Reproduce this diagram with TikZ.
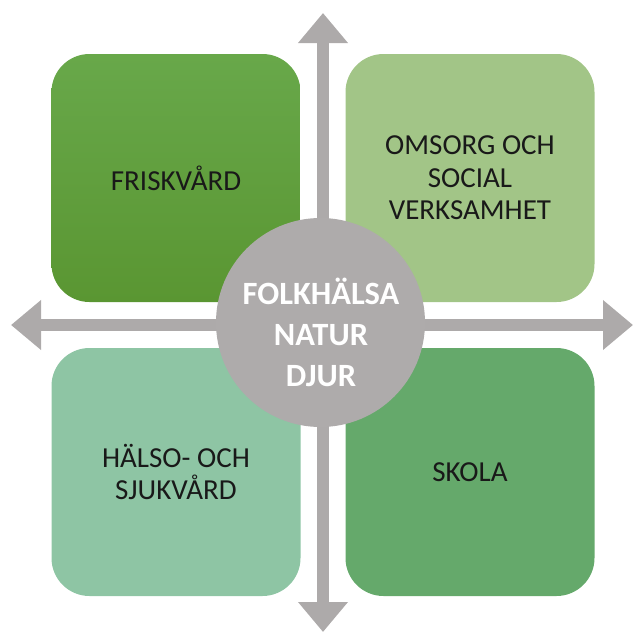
\documentclass[tikz,border=0pt]{standalone}
\usepackage{fontspec}
\setmainfont{Carlito}
\usetikzlibrary{arrows.meta}
\definecolor{friskgreentop}{HTML}{68A84A}
\definecolor{friskgreenbot}{HTML}{5A9632}
\definecolor{omsorggreen}{HTML}{A2C587}
\definecolor{halsogreen}{HTML}{8EC5A4}
\definecolor{skolagreen}{HTML}{65A96B}
\definecolor{coregray}{HTML}{AEABAB}
\definecolor{arrowgray}{HTML}{ADAAAA}
\tikzset{
  area/.style={minimum width=249pt,minimum height=248pt,inner sep=0pt,
    rounded corners=38pt,align=center,text=black!90,
    font=\fontsize{29}{32.5}\selectfont},
  core/.style={circle,fill=coregray,minimum size=209pt,inner sep=0pt},
  axis/.style={arrowgray,line width=12pt,
    {Triangle[width=48pt,length=30pt]}-{Triangle[width=48pt,length=30pt]}}
}
\begin{document}
\begin{tikzpicture}[x=1pt,y=-1pt]
    \useasboundingbox (0,0) rectangle (633,632);
    \coordinate (N) at (323,13);
    \coordinate (S) at (323,632);
    \coordinate (W) at (11,325);
    \coordinate (E) at (633,325);
    \draw[axis] (W) -- (E);
    \draw[axis] (N) -- (S);
    \node[area,top color=friskgreentop,bottom color=friskgreenbot] (friskvard) at (176,178) {FRISKVÅRD};
    \node[area,fill=omsorggreen] (omsorg) at (470,178) {OMSORG OCH\\SOCIAL\\VERKSAMHET};
    \node[area,fill=halsogreen] (halso) at (176,472) {HÄLSO- OCH\\SJUKVÅRD};
    \node[area,fill=skolagreen] (skola) at (470,472) {SKOLA};
    \node[core] (folkhalsa) at (320.5,322.5) {};
    \node[text=white,align=center,font=\bfseries\fontsize{32.5}{41}\selectfont]
      (folkhalsatext) at (321,332) {FOLKHÄLSA\\NATUR\\DJUR};
  \end{tikzpicture}
\end{document}
